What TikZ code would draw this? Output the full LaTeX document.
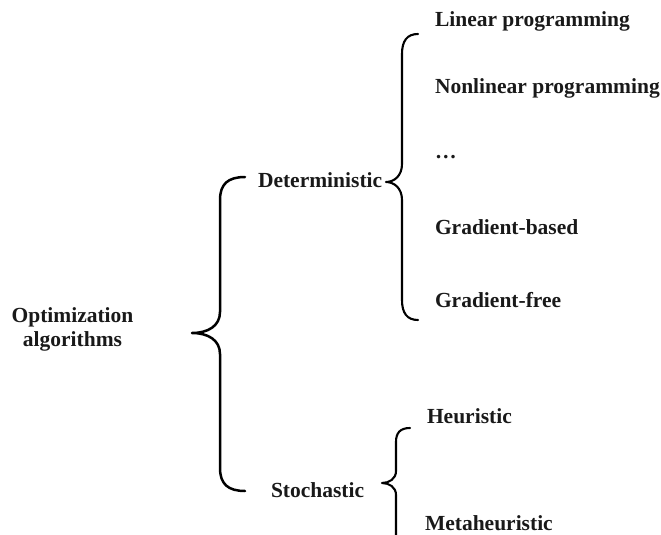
\documentclass[tikz,border=0pt]{standalone}
\usepackage{fontspec}
\setmainfont{Liberation Serif}
\begin{document}
\begin{tikzpicture}[x=1pt,y=-1pt,
  lbl/.style={inner sep=0pt,outer sep=0pt,font=\fontsize{21.5}{26}\selectfont\bfseries,text=black!90},
  bracepath/.style={draw=black,line width=2.5pt,line cap=round,line join=round},
  smallbrace/.style={bracepath,line width=2.1pt}]
\useasboundingbox (0,0) rectangle (661,535);

% root label
\node[lbl,anchor=base] (opt) at (72.5,322) {Optimization};
\node[lbl,anchor=base] (alg) at (72.5,346) {algorithms};

% first level
\node[lbl,anchor=base west] (det) at (258,187) {Deterministic};
\node[lbl,anchor=base west] (sto) at (271,497) {Stochastic};

% deterministic branch
\node[lbl,anchor=base west] (lin) at (435,27) {Linear programming};
\node[lbl,anchor=base west] (nlp) at (435,93) {Nonlinear programming};
\node[lbl,anchor=base west] (dots) at (435,158) {\ldots};
\node[lbl,anchor=base west] (gb) at (435,234) {Gradient-based};
\node[lbl,anchor=base west] (gf) at (435,307) {Gradient-free};

% stochastic branch
\node[lbl,anchor=base west] (heu) at (427,423) {Heuristic};
\node[lbl,anchor=base west] (meta) at (425,530) {Metaheuristic};

% brace joining the root to the two classes
\coordinate (b1top) at (245,177);
\coordinate (b1tip) at (192,333);
\coordinate (b1bot) at (245,491);
\draw[bracepath] (b1top) .. controls (228,177) and (220,184) .. (220,200)
  -- (220,312) .. controls (220,326) and (208,333) .. (b1tip)
  .. controls (208,333) and (220,340) .. (220,354)
  -- (220,468) .. controls (220,484) and (228,491) .. (b1bot);

% brace of the deterministic methods
\coordinate (b2top) at (418,34);
\coordinate (b2tip) at (386,182);
\coordinate (b2bot) at (418,320);
\draw[smallbrace] (b2top) .. controls (407,34) and (402,41) .. (402,54)
  -- (402,164) .. controls (402,176) and (394,182) .. (b2tip)
  .. controls (394,182) and (402,188) .. (402,200)
  -- (402,300) .. controls (402,313) and (407,320) .. (b2bot);

% brace of the stochastic methods
\coordinate (b3top) at (410,428);
\coordinate (b3tip) at (382,483);
\coordinate (b3bot) at (396,545);
\draw[smallbrace] (b3top) .. controls (400,428) and (396,433) .. (396,442)
  -- (396,471) .. controls (396,479) and (389,483) .. (b3tip)
  .. controls (389,483) and (396,487) .. (396,495)
  -- (b3bot);
\end{tikzpicture}
\end{document}
